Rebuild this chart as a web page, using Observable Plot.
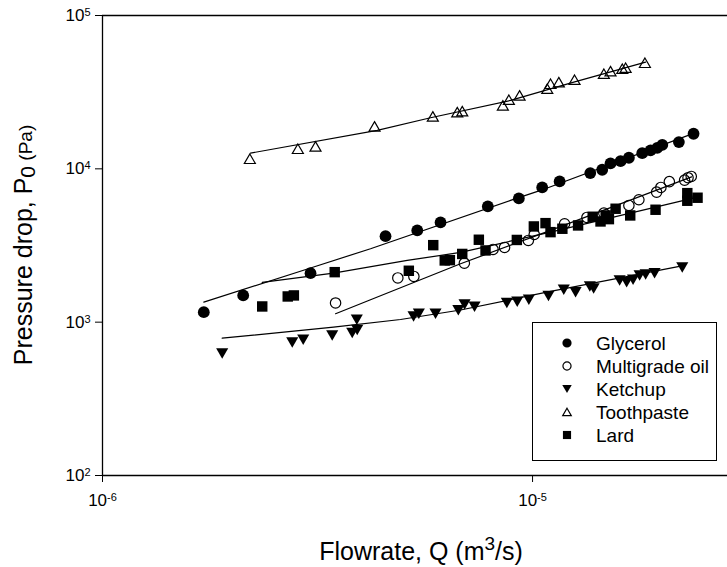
<!DOCTYPE html>
<html>
<head>
<meta charset="utf-8">
<script src="https://cdn.jsdelivr.net/npm/d3@7"></script>
<script src="https://cdn.jsdelivr.net/npm/@observablehq/plot@0.6"></script>
<style>
  html, body { margin: 0; padding: 0; background: #fff; }
  #chart svg { display: block; }
</style>
</head>
<body>
<div id="chart"></div>
<script>
// ---- Data (Q in m^3/s, P0 in Pa) ----
const seriesNames = ["Glycerol", "Multigrade oil", "Ketchup", "Toothpaste", "Lard"];

const qGlycerol = [1.720e-6, 2.124e-6, 3.046e-6, 4.551e-6, 5.394e-6, 6.110e-6, 7.870e-6, 9.292e-6, 1.053e-5, 1.156e-5, 1.362e-5, 1.452e-5, 1.518e-5, 1.602e-5, 1.675e-5, 1.799e-5, 1.881e-5, 1.950e-5, 2.003e-5, 2.189e-5, 2.368e-5];
const pGlycerol = [1162, 1494, 2088, 3639, 3965, 4471, 5685, 6411, 7563, 8276, 9376, 9865, 10845, 11225, 11813, 12660, 13183, 13690, 14320, 14940, 16940];

const qOil = [3.483e-6, 4.861e-6, 5.297e-6, 6.941e-6, 8.093e-6, 8.608e-6, 9.777e-6, 1.009e-5, 1.187e-5, 1.338e-5, 1.465e-5, 1.675e-5, 1.767e-5, 1.943e-5, 1.988e-5, 2.080e-5, 2.257e-5, 2.299e-5, 2.339e-5];
const pOil = [1334, 1942, 1987, 2426, 2980, 3071, 3412, 3733, 4385, 4819, 5140, 5771, 6285, 7047, 7563, 8251, 8439, 8750, 8921];

const qKetchup = [1.898e-6, 2.762e-6, 2.929e-6, 3.421e-6, 3.808e-6, 3.911e-6, 3.902e-6, 5.288e-6, 5.440e-6, 5.948e-6, 6.721e-6, 6.949e-6, 7.330e-6, 8.714e-6, 9.213e-6, 9.804e-6, 1.089e-5, 1.182e-5, 1.259e-5, 1.359e-5, 1.387e-5, 1.594e-5, 1.655e-5, 1.713e-5, 1.774e-5, 1.832e-5, 1.922e-5, 2.229e-5];
const pKetchup = [625, 737, 768, 819, 850, 889, 1037, 1089, 1135, 1135, 1198, 1305, 1260, 1334, 1359, 1400, 1482, 1627, 1569, 1710, 1659, 1871, 1824, 1891, 2017, 2048, 2088, 2275];

const qToothpaste = [2.201e-6, 2.846e-6, 3.128e-6, 4.291e-6, 5.863e-6, 6.682e-6, 6.863e-6, 8.530e-6, 8.809e-6, 9.329e-6, 1.082e-5, 1.101e-5, 1.151e-5, 1.252e-5, 1.465e-5, 1.518e-5, 1.617e-5, 1.646e-5, 1.825e-5];
const pToothpaste = [11640, 13520, 14000, 18910, 21970, 23440, 23790, 25920, 28240, 30120, 33310, 35900, 36780, 38130, 41730, 43380, 44980, 45660, 49210];

const qLard = [2.352e-6, 2.696e-6, 2.786e-6, 3.467e-6, 5.156e-6, 5.876e-6, 6.249e-6, 6.423e-6, 6.863e-6, 7.501e-6, 7.775e-6, 9.194e-6, 1.007e-5, 1.072e-5, 1.101e-5, 1.173e-5, 1.276e-5, 1.380e-5, 1.439e-5, 1.479e-5, 1.505e-5, 1.560e-5, 1.687e-5, 1.932e-5, 2.290e-5, 2.290e-5, 2.419e-5];
const pLard = [1266, 1471, 1494, 2119, 2164, 3179, 2526, 2538, 2786, 3448, 2936, 3437, 4210, 4424, 3865, 4067, 4274, 4870, 4538, 4966, 4698, 5492, 4966, 5410, 6942, 6193, 6479];

// fitted curves, points
const fitGlycerolQ = [1.720e-6, 3.046e-6, 4.200e-6, 8.888e-6, 1.044e-5, 2.368e-5];
const fitGlycerolP = [1351, 2257, 3012, 6222, 7229, 17020];
const fitOilQ = [3.483e-6, 4.200e-6, 6.801e-6, 1.101e-5, 2.343e-5];
const fitOilP = [1135, 1400, 2404, 3965, 8855];
const fitKetchupQ = [1.898e-6, 3.445e-6, 4.932e-6, 6.801e-6, 1.101e-5, 2.257e-5];
const fitKetchupP = [786, 928, 1041, 1201, 1586, 2344];
const fitToothpasteQ = [2.209e-6, 4.353e-6, 5.792e-6, 8.888e-6, 1.247e-5, 1.832e-5];
const fitToothpasteP = [12660, 17800, 21540, 27940, 36780, 49660];
const fitLardQ = [2.352e-6, 3.445e-6, 5.112e-6, 6.801e-6, 1.101e-5, 2.419e-5];
const fitLardP = [1816, 2088, 2526, 2849, 3865, 6538];

const xTicks = [1e-6, 1e-5];
const yTicks = [1e2, 1e3, 1e4, 1e5];
const xDomain = [1e-6, 2.84e-5];
const yDomain = [1e2, 1e5];

// ---- helpers ----
const zip = (qs, ps) => qs.map((q, i) => ({q, p: ps[i]}));

const triUp = {
  draw(ctx, size) {
    const a = 2.2 * Math.sqrt(size / Math.PI);
    const h = a * Math.sqrt(3) / 2;
    ctx.moveTo(0, -h / 2); ctx.lineTo(a / 2, h / 2); ctx.lineTo(-a / 2, h / 2); ctx.closePath();
  }
};
const triDown = {
  draw(ctx, size) {
    const a = 2.2 * Math.sqrt(size / Math.PI);
    const h = a * Math.sqrt(3) / 2;
    ctx.moveTo(0, h / 2); ctx.lineTo(a / 2, -h / 2); ctx.lineTo(-a / 2, -h / 2); ctx.closePath();
  }
};
const squareSym = {
  draw(ctx, size) {
    const s = 1.8 * Math.sqrt(size / Math.PI);
    ctx.rect(-s / 2, -s / 2, s, s);
  }
};
const circleSym = {
  draw(ctx, size) {
    const r = Math.sqrt(size / Math.PI);
    ctx.moveTo(r, 0); ctx.arc(0, 0, r, 0, 2 * Math.PI);
  }
};

const styles = [
  {symbol: circleSym, fill: "black", stroke: "none", r: 5.9},
  {symbol: circleSym, fill: "none", stroke: "black", r: 5.2},
  {symbol: triDown, fill: "black", stroke: "none", r: 5.5},
  {symbol: triUp, fill: "none", stroke: "black", r: 5.0},
  {symbol: squareSym, fill: "black", stroke: "none", r: 5.8}
];

const pointSets = [
  zip(qGlycerol, pGlycerol), zip(qOil, pOil), zip(qKetchup, pKetchup),
  zip(qToothpaste, pToothpaste), zip(qLard, pLard)
];
const fitSets = [
  zip(fitGlycerolQ, fitGlycerolP), zip(fitOilQ, fitOilP), zip(fitKetchupQ, fitKetchupP),
  zip(fitToothpasteQ, fitToothpasteP), zip(fitLardQ, fitLardP)
];

const FONT = "'Liberation Sans', Arial, Helvetica, sans-serif";

const chart = Plot.plot({
  width: 727,
  height: 567,
  marginLeft: 102,
  marginRight: 0,
  marginTop: 15,
  marginBottom: 92,
  style: {fontFamily: FONT, fontSize: "17px", color: "black", background: "white", overflow: "visible"},
  x: {type: "log", domain: xDomain, range: [102, 727]},
  y: {type: "log", domain: yDomain},
  marks: [
    Plot.axisX({ticks: xTicks, tickFormat: d => String(Math.round(Math.log10(d))), tickSize: 7, tickPadding: 11, label: null, fontSize: 17, stroke: "black"}),
    Plot.axisY({ticks: yTicks, tickFormat: d => String(Math.round(Math.log10(d))), tickSize: 7, tickPadding: 5, label: null, fontSize: 17, stroke: "black"}),
    Plot.ruleX([xDomain[0]], {stroke: "black", strokeWidth: 1.3}),
    Plot.ruleY([yDomain[0]], {stroke: "black", strokeWidth: 1.3}),
    Plot.ruleY([yDomain[1]], {stroke: "black", strokeWidth: 1.3}),
    ...fitSets.map(f => Plot.line(f, {x: "q", y: "p", stroke: "black", strokeWidth: 1.2})),
    ...pointSets.map((pts, i) => Plot.dot(pts, {
      x: "q", y: "p",
      symbol: styles[i].symbol,
      r: styles[i].r,
      fill: styles[i].fill,
      stroke: styles[i].stroke,
      strokeWidth: 1.2
    }))
  ]
});

document.getElementById("chart").appendChild(chart);

// ---- superscript exponents on tick labels ----
const svg = d3.select(chart);
svg.selectAll('g[aria-label="x-axis tick label"] text, g[aria-label="y-axis tick label"] text').each(function () {
  const t = d3.select(this);
  const e = t.text();
  t.text("10");
  t.append("tspan").attr("dy", "-0.45em").attr("font-size", "11px").text(e);
});

// ---- axis titles ----
const xt = svg.append("text")
  .attr("x", 421).attr("y", 560)
  .attr("text-anchor", "middle")
  .attr("font-family", FONT).attr("font-size", 25).attr("fill", "black");
xt.append("tspan").text("Flowrate, Q (m");
xt.append("tspan").attr("font-size", 19).attr("dy", -10).text("3");
xt.append("tspan").attr("dy", 10).text("/s)");

const yt = svg.append("text")
  .attr("transform", "translate(32,245) rotate(-90)")
  .attr("text-anchor", "middle")
  .attr("font-family", FONT).attr("font-size", 25).attr("fill", "black");
yt.append("tspan").text("Pressure drop, P");
yt.append("tspan").attr("font-size", 21).attr("dy", 3).text("0");
yt.append("tspan").attr("font-size", 19).attr("dy", -3).text(" (Pa)");

// ---- legend ----
const lg = svg.append("g").attr("aria-label", "legend").attr("text-anchor", "start");
lg.append("rect").attr("x", 532.5).attr("y", 322.5).attr("width", 184).attr("height", 138)
  .attr("fill", "white").attr("stroke", "black").attr("stroke-width", 1);
seriesNames.forEach((name, i) => {
  const cy = 343 + i * 23;
  const st = styles[i];
  const rr = st.r * 0.78;
  lg.append("path")
    .attr("transform", `translate(567,${cy})`)
    .attr("d", d3.symbol(st.symbol, Math.PI * rr * rr)())
    .attr("fill", st.fill).attr("stroke", st.stroke).attr("stroke-width", 1.2);
  lg.append("text").attr("x", 596).attr("y", cy).attr("dy", "0.35em")
    .attr("text-anchor", "start")
    .attr("font-family", FONT).attr("font-size", 19).attr("fill", "black").text(name);
});
</script>
</body>
</html>
